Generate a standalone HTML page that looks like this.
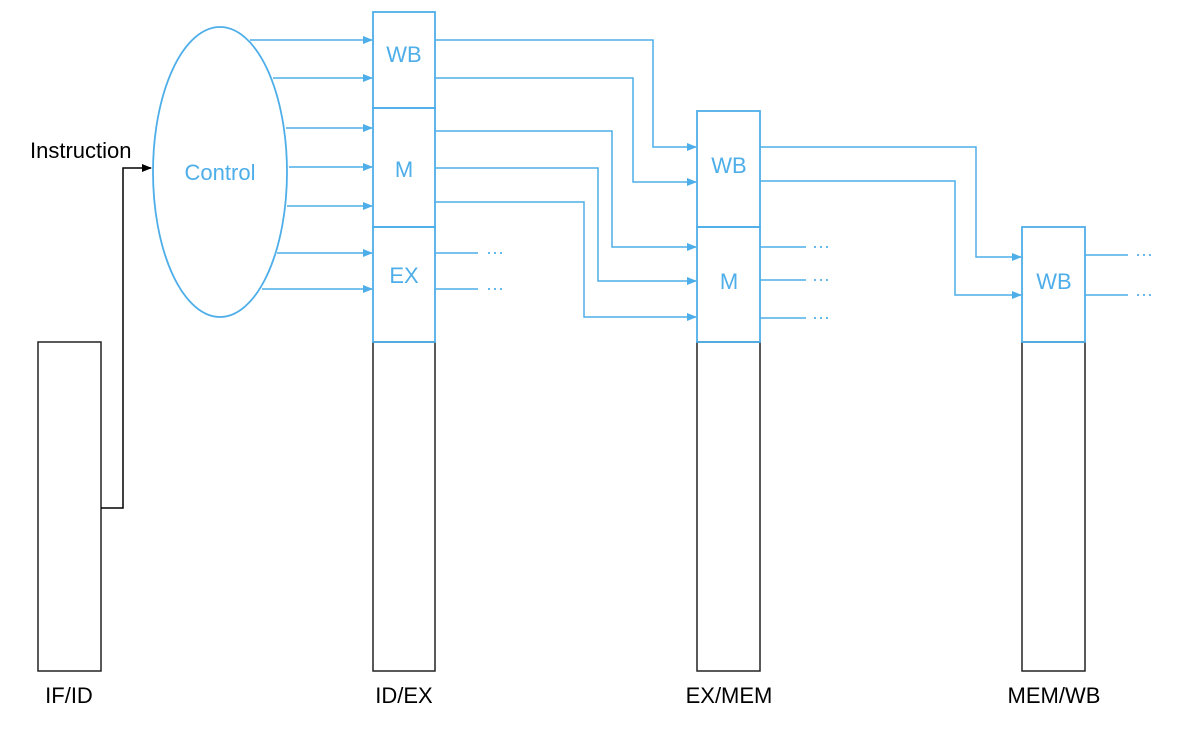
<!DOCTYPE html>
<html><head><style>body{margin:0;background:#fff}svg{display:block}text{font-family:"Liberation Sans",Arial,sans-serif}</style></head><body>
<svg width="1190" height="731" viewBox="0 0 1190 731" xmlns="http://www.w3.org/2000/svg">
<defs>
<marker id="b" markerWidth="10" markerHeight="8" refX="9" refY="4" orient="auto" markerUnits="userSpaceOnUse"><path d="M0,0 L10,4 L0,8 Z" fill="#4eaee9"/></marker>
<marker id="k" markerWidth="10" markerHeight="8" refX="9" refY="4" orient="auto" markerUnits="userSpaceOnUse"><path d="M0,0 L10,4 L0,8 Z" fill="#000"/></marker>
</defs>
<g fill="none" stroke="#222" stroke-width="1.5">
<rect x="38" y="342" width="63" height="329"/>
<rect x="373" y="342" width="62" height="329"/>
<rect x="697" y="342" width="63" height="329"/>
<rect x="1022" y="342" width="63" height="329"/>
</g>
<polyline points="101,508 123,508 123,168 151,168" fill="none" stroke="#000" stroke-width="1.5" marker-end="url(#k)"/>
<text x="30" y="158" font-size="22" fill="#000">Instruction</text>
<g fill="none" stroke="#4eaee9" stroke-width="1.8">
<ellipse cx="220" cy="172" rx="67" ry="145"/>
<rect x="373" y="12" width="62" height="96"/>
<rect x="373" y="108" width="62" height="119"/>
<rect x="373" y="227" width="62" height="115"/>
<rect x="697" y="111" width="63" height="116"/>
<rect x="697" y="227" width="63" height="115"/>
<rect x="1022" y="227" width="63" height="115"/>
</g>
<g fill="none" stroke="#4eaee9" stroke-width="1.5" marker-end="url(#b)">
<line x1="250" y1="40" x2="372" y2="40"/>
<line x1="273" y1="78" x2="372" y2="78"/>
<line x1="286" y1="128" x2="372" y2="128"/>
<line x1="289" y1="167" x2="372" y2="167"/>
<line x1="287" y1="206" x2="372" y2="206"/>
<line x1="277" y1="253" x2="372" y2="253"/>
<line x1="262" y1="289" x2="372" y2="289"/>
<polyline points="435,40 653,40 653,147 696,147"/>
<polyline points="435,78 633,78 633,182 696,182"/>
<polyline points="435,131 612,131 612,247 696,247"/>
<polyline points="435,168 598,168 598,281 696,281"/>
<polyline points="435,202 584,202 584,317 696,317"/>
<polyline points="760,147 976,147 976,257 1021,257"/>
<polyline points="760,181 955,181 955,295 1021,295"/>
</g>
<g stroke="#4eaee9" stroke-width="1.5">
<line x1="435" y1="253" x2="478" y2="253"/><line x1="435" y1="289" x2="478" y2="289"/>
<line x1="760" y1="247" x2="806" y2="247"/><line x1="760" y1="280" x2="806" y2="280"/><line x1="760" y1="318" x2="806" y2="318"/>
<line x1="1085" y1="255" x2="1128" y2="255"/><line x1="1085" y1="295" x2="1128" y2="295"/>
</g>
<g fill="#4eaee9" font-size="18">
<text x="486" y="258">···</text><text x="486" y="294">···</text>
<text x="812" y="252">···</text><text x="812" y="285">···</text><text x="812" y="323">···</text>
<text x="1135" y="260">···</text><text x="1135" y="300">···</text>
</g>
<g fill="#4eaee9" font-size="22" text-anchor="middle">
<text x="220" y="180">Control</text>
<text x="404" y="62">WB</text>
<text x="404" y="177">M</text>
<text x="404" y="283">EX</text>
<text x="729" y="173">WB</text>
<text x="729" y="289">M</text>
<text x="1054" y="289">WB</text>
</g>
<g fill="#000" font-size="22" text-anchor="middle">
<text x="69" y="703">IF/ID</text>
<text x="404" y="703">ID/EX</text>
<text x="729" y="703">EX/MEM</text>
<text x="1054" y="703">MEM/WB</text>
</g>
</svg>
</body></html>
